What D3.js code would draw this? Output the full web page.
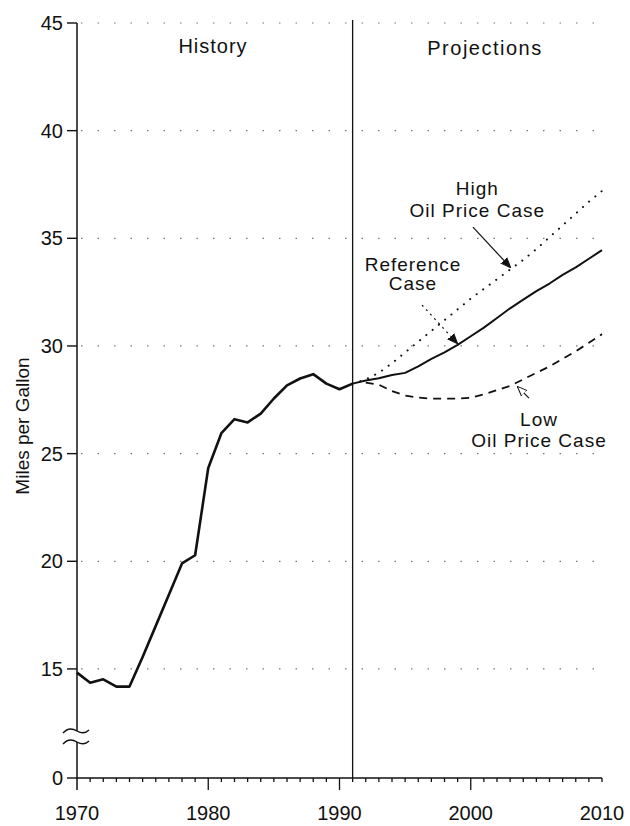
<!DOCTYPE html>
<meta charset="utf-8">
<style>
body { margin: 0; background: #fff; }
text { font-family: "Liberation Sans", Arial, sans-serif; fill: #111; }
.grid { stroke: #777; stroke-width: 1.2; stroke-dasharray: 1.5,15; }
.hist, .ref { fill: none; stroke: #111; stroke-width: 2.6px; stroke-linejoin: round; }
.ref { stroke-width: 2px; }
.low { fill: none; stroke: #111; stroke-width: 1.8px; stroke-dasharray: 8,6; }
.high { fill: none; stroke: #111; stroke-width: 2px; stroke-dasharray: 0.1,8; stroke-linecap: round; }
</style>
<body>
<script src="https://d3js.org/d3.v7.min.js"></script>
<script>

// history, 1970-1991
var histYears = d3.range(1970, 1992);
var histMpg = [14.83, 14.36, 14.52, 14.18, 14.18, 15.55, 17.0, 18.45, 19.9, 20.28,
               24.33, 25.95, 26.6, 26.45, 26.86, 27.56, 28.17, 28.49, 28.69, 28.25,
               27.99, 28.25];

// projections, 1991-2010
var projYears = d3.range(1991, 2011);
var refCase  = [28.25, 28.4, 28.5, 28.65, 28.75, 29.05, 29.4, 29.7, 30.05, 30.45,
                30.85, 31.3, 31.75, 32.15, 32.55, 32.9, 33.3, 33.65, 34.05, 34.45];
var highCase = [28.25, 28.45, 28.75, 29.2, 29.7, 30.2, 30.7, 31.2, 31.7, 32.2,
                32.65, 33.1, 33.55, 34.0, 34.5, 35.05, 35.6, 36.15, 36.7, 37.2];
var lowCase  = [28.25, 28.3, 28.2, 27.9, 27.7, 27.6, 27.55, 27.55, 27.55, 27.6,
                27.75, 27.95, 28.15, 28.45, 28.75, 29.05, 29.4, 29.75, 30.15, 30.55];

var yTicks = [0, 15, 20, 25, 30, 35, 40, 45];
var xTicks = [1970, 1980, 1990, 2000, 2010];

var width = 630, height = 826;

var x = d3.scaleLinear().domain([1970, 2010]).range([77, 602]);
// broken axis: 0 sits below the break, 13..45 is linear
var y = d3.scaleLinear().domain([0, 13, 45]).range([778, 712, 23]);

var svg = d3.select("body").append("svg")
    .attr("width", width)
    .attr("height", height);

// dotted grid
svg.selectAll(".grid")
    .data(yTicks.filter(function(d) { return d >= 15; }))
  .enter().append("line")
    .attr("class", "grid")
    .attr("x1", x(1970) + 4).attr("x2", x(2010))
    .attr("y1", function(d) { return y(d); })
    .attr("y2", function(d) { return y(d); });

// y axis with break
var yb1 = 731, yb2 = 742;
svg.append("line").attr("x1", x(1970)).attr("x2", x(1970))
    .attr("y1", y(45)).attr("y2", yb1).attr("stroke", "#111").attr("stroke-width", 1.5);
svg.append("line").attr("x1", x(1970)).attr("x2", x(1970))
    .attr("y1", yb2).attr("y2", y(0) + 12).attr("stroke", "#111").attr("stroke-width", 1.5);
[yb1, yb2].forEach(function(b) {
  svg.append("path")
      .attr("d", "M" + (x(1970) - 14) + "," + (b + 2) +
                 " q 6,-7 14,-2 q 7,4 12,-1")
      .attr("fill", "none").attr("stroke", "#111").attr("stroke-width", 1.4);
});

svg.selectAll(".ytick")
    .data(yTicks)
  .enter().append("line")
    .attr("x1", x(1970) - 10).attr("x2", x(1970))
    .attr("y1", function(d) { return y(d); })
    .attr("y2", function(d) { return y(d); })
    .attr("stroke", "#111").attr("stroke-width", 1.4);

svg.selectAll(".ylab")
    .data(yTicks)
  .enter().append("text")
    .attr("x", 63)
    .attr("y", function(d) { return y(d) + 7; })
    .attr("text-anchor", "end")
    .style("font-size", "20px")
    .text(function(d) { return d; });

svg.append("text")
    .attr("transform", "translate(29,426) rotate(-90)")
    .attr("text-anchor", "middle")
    .style("font-size", "19px")
    .text("Miles per Gallon");

// x axis
svg.append("line").attr("x1", x(1970)).attr("x2", x(2010))
    .attr("y1", y(0)).attr("y2", y(0)).attr("stroke", "#111").attr("stroke-width", 1.5);
svg.selectAll(".xminor")
    .data(d3.range(1971, 2011))
  .enter().append("line")
    .attr("x1", function(d) { return x(d); }).attr("x2", function(d) { return x(d); })
    .attr("y1", y(0)).attr("y2", function(d) { return d % 10 == 0 && d < 2010 ? y(0) + 12 : y(0) + 4; })
    .attr("stroke", "#111").attr("stroke-width", 1.3);
svg.selectAll(".xlab")
    .data(xTicks)
  .enter().append("text")
    .attr("x", function(d) { return x(d); })
    .attr("y", 820)
    .attr("text-anchor", "middle")
    .style("font-size", "20px")
    .text(function(d) { return d; });

// history / projections divider
svg.append("line").attr("x1", x(1991)).attr("x2", x(1991))
    .attr("y1", y(45) - 3).attr("y2", y(0))
    .attr("stroke", "#111").attr("stroke-width", 1.3);

svg.append("text").attr("x", 213).attr("y", 53)
    .attr("text-anchor", "middle").style("font-size", "20px")
    .style("letter-spacing", "1px").text("History");
svg.append("text").attr("x", 485).attr("y", 55)
    .attr("text-anchor", "middle").style("font-size", "20px")
    .style("letter-spacing", "1.5px").text("Projections");

// lines
function lineOf(years) {
  return d3.line()
      .x(function(d, i) { return x(years[i]); })
      .y(function(d) { return y(d); });
}
svg.append("path").datum(histMpg).attr("class", "hist").attr("d", lineOf(histYears));
svg.append("path").datum(highCase).attr("class", "high").attr("d", lineOf(projYears));
svg.append("path").datum(lowCase.slice(1)).attr("class", "low").attr("d", lineOf(projYears.slice(1)));
svg.append("path").datum(refCase).attr("class", "ref").attr("d", lineOf(projYears));

// labels and arrows
function label(lines, cx, by, dy) {
  lines.forEach(function(t, i) {
    svg.append("text").attr("x", x(cx)).attr("y", y(by) + i * dy)
        .attr("text-anchor", "middle").style("font-size", "19px")
        .style("letter-spacing", "1px").text(t);
  });
}
label(["High", "Oil Price Case"], 2000.5, 37.0, 22);
label(["Reference", "Case"], 1995.6, 33.48, 19);
label(["Low", "Oil Price Case"], 2005.2, 26.28, 21);

svg.append("defs").selectAll("marker")
    .data(["solid", "open"])
  .enter().append("marker")
    .attr("id", function(d) { return "ah-" + d; })
    .attr("viewBox", "0 0 10 10").attr("refX", 9).attr("refY", 5)
    .attr("markerWidth", 10).attr("markerHeight", 10)
    .attr("markerUnits", "userSpaceOnUse").attr("orient", "auto")
  .append("path")
    .attr("d", "M0,1 L10,5 L0,9 z")
    .attr("fill", function(d) { return d == "solid" ? "#111" : "#fff"; })
    .attr("stroke", "#111").attr("stroke-width", 1);

function arrow(x1, y1, x2, y2, kind, dash) {
  svg.append("line")
      .attr("x1", x(x1)).attr("y1", y(y1)).attr("x2", x(x2)).attr("y2", y(y2))
      .attr("stroke", "#111").attr("stroke-width", 1.2)
      .attr("stroke-dasharray", dash || null)
      .attr("marker-end", "url(#ah-" + kind + ")");
}
arrow(2000.17, 35.52, 2002.99, 33.67, "solid");
arrow(1996.29, 31.9, 1998.95, 30.14, "solid", "2,4");
arrow(2004.44, 27.58, 2003.6, 28.09, "open");

</script>
</body>
